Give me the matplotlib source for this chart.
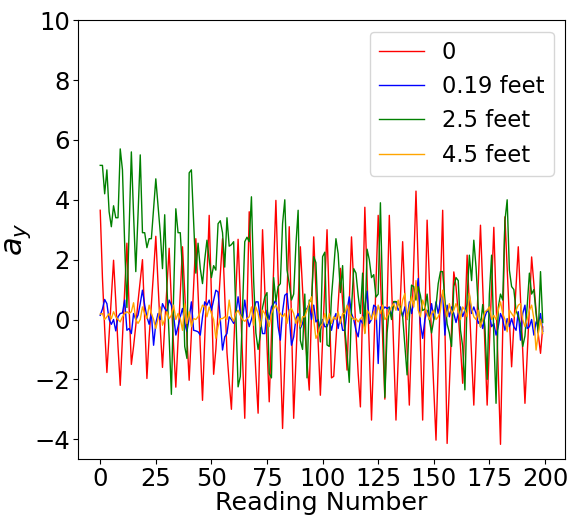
import matplotlib
matplotlib.use("Agg")
import matplotlib.pyplot as plt
import numpy as np

# acceleration readings (y axis) at each sensor height
ay_0 = [
    3.65, 1.4, -0.3, -1.77, -0.5, 0.8, 1.98, 0.6, -0.9, -2.2,
    -0.6, 1.0, 2.55, 0.4, -1.5, -0.9, -0.2, 0.6, 1.3, 2.0,
    0.0, -1.97, -0.6, 0.5, 1.6, 2.78, 1.2, -0.3, -1.6, -0.2,
    1.1, 2.38, 0.6, -0.9, -2.26, -0.7, 0.9, 2.43, 0.9, -0.6,
    -2.03, -0.5, 1.1, 2.7, 0.9, -0.9, -2.7, -0.6, 1.4, 3.48,
    0.8, -1.83, -1.0, 0.3, 1.5, 2.7, 0.8, -1.1, -2.1, -3.0,
    -1.0, 0.9, 2.68, 0.7, -1.3, -3.3, 0.1, 3.6, 1.5, -0.3,
    -1.8, -3.13, 0.0, 3.0, 1.0, -0.9, -2.75, -0.5, 1.7, 3.98,
    1.4, -1.1, -3.64, -1.4, 0.8, 3.1, 0.0, -3.3, -1.4, 0.5,
    2.43, 1.0, -0.3, -1.4, -2.36, 0.2, 2.76, 1.0, -0.8, -2.53,
    -0.7, 1.1, 3.0, 0.5, -1.95, -1.9, -0.7, 0.5, 1.71, 0.6,
    -0.5, -1.69, 0.5, 2.76, 1.2, -0.4, -1.8, -2.92, 0.4, 3.75,
    1.4, -1.0, -3.36, -1.1, 1.2, 3.48, 1.4, -0.6, -2.66, 0.4,
    3.48, 1.2, -1.1, -3.36, -1.3, 0.7, 2.6, 0.8, -1.0, -2.86,
    -0.5, 1.9, 4.29, 1.7, -0.8, -3.36, 0.0, 3.32, 1.4, -0.6,
    -2.3, -4.03, -1.5, 1.1, 3.65, -0.2, -4.14, -2.2, -0.3, 1.59,
    1.1, 0.2, -0.9, -2.13, 0.0, 2.15, 0.5, -1.2, -2.86, -0.8,
    1.2, 3.15, 1.1, -0.9, -2.86, -0.9, 1.1, 3.08, 0.7, -1.7,
    -4.17, -0.4, 3.43, 1.7, 0.0, -1.58, -0.2, 1.1, 2.43, 0.7,
    -1.0, -2.8, -1.2, 0.4, 2.09, 1.2, 0.3, -0.5, -1.13, -0.25,
]

ay_019 = [
    0.14, 0.35, 0.67, 0.53, 0.0, -0.16, 0.0, -0.38, 0.09, 0.2,
    0.22, 0.65, -0.36, -0.3, -0.47, 0.2, 0.0, 0.14, 0.53, 0.98,
    0.48, 0.09, -0.16, 0.2, -0.86, -0.13, 0.2, 0.0, 0.53, 0.37,
    0.26, 0.65, 0.48, 0.14, -0.52, -0.24, 0.09, 0.37, -0.13, -0.4,
    0.05, 0.59, -0.36, -0.38, -0.41, -0.52, 0.09, 0.59, 0.48, 0.65,
    0.31, 0.65, 0.98, 0.92, 0.0, -1.02, -0.58, -0.47, 0.09, 0.0,
    -0.13, 0.2, 0.76, 0.2, 0.0, 0.65, 0.09, -0.24, 0.0, 0.31,
    0.59, 0.59, 0.0, -0.47, -0.47, 0.31, 0.0, 0.42, 0.53, 0.65,
    -0.24, -0.69, 0.26, 0.81, 0.87, 0.09, -0.86, -0.58, 0.03, 0.2,
    -0.3, -0.13, 0.31, 0.37, 0.53, 0.0, 0.48, -0.08, 0.0, -0.36,
    0.0, -0.24, -0.24, 0.0, -0.36, 0.0, 0.2, -0.3, 0.09, -0.36,
    -0.36, 0.31, 0.76, 0.2, 0.0, -0.36, -0.58, 0.0, -0.13, 0.42,
    0.95, -0.13, 0.0, 0.48, 0.42, -1.47, 0.42, 0.31, 0.42, 0.37,
    0.42, 0.09, 0.59, 0.59, 0.31, 0.42, 0.09, 0.42, 0.0, 0.59,
    0.2, 0.59, 0.76, 1.37, -0.13, -0.63, 0.0, 0.31, 0.0, 0.53,
    0.0, 0.59, 0.2, 0.65, 0.87, -0.52, 0.48, 0.09, 0.42, 0.2,
    -0.1, 0.2, 0.42, 0.1, 0.31, 0.48, 0.81, 0.2, 0.42, 0.2,
    -0.13, 0.0, -0.3, 0.09, 0.31, 0.2, -0.24, -0.13, -0.52, -0.24,
    0.2, 0.0, -0.36, 0.03, -0.24, 0.03, -0.24, -0.36, 0.26, -0.69,
    0.2, 0.48, -0.3, -0.24, 0.0, -0.52, -0.08, -0.19, 0.2, -0.4,
]

ay_25 = [
    5.15, 5.15, 4.2, 5.0, 3.6, 3.1, 3.8, 3.4, 3.4, 5.7,
    5.0, 2.5, 0.4, 3.0, 5.6, 3.5, 1.6, 3.5, 5.5, 2.9,
    2.9, 2.4, 2.7, 2.7, 3.7, 4.7, 3.8, 2.9, 1.7, 3.5,
    1.1, -0.6, -2.5, 0.8, 3.7, 2.9, 2.9, 1.65, -0.9, -1.3,
    4.9, 5.0, 3.3, 1.55, 2.55, 1.7, 1.2, 2.0, 2.65, 2.0,
    1.4, 1.8, 1.65, 3.2, 3.3, 2.9, 1.75, 3.4, 2.45, 2.5,
    2.6, 0.2, -2.25, -1.9, 0.4, 2.6, 2.75, 2.6, 4.1, 1.3,
    -0.45, -1.0, -0.5, 0.4, 0.75, 0.9, -1.8, -1.95, 1.4, 0.6,
    1.1, 1.2, 3.2, 4.0, 1.65, 1.2, 0.65, 0.85, 2.5, 3.65,
    -0.7, -1.0, 0.85, -1.95, 0.65, 0.6, 2.1, 1.9, 0.0, -0.75,
    2.1, 2.25, -0.85, -0.9, 0.75, 1.7, 2.7, 2.2, 0.9, 1.8,
    -0.3, -1.15, -2.1, 0.4, 1.7, 1.55, 0.8, 0.2, 1.55, -0.45,
    2.35, 2.0, 1.4, 1.5, 0.75, 0.85, 3.9, 0.6, -2.6, -0.45,
    0.4, 0.0, 0.6, 0.6, 0.55, 0.4, 0.1, -0.9, -1.85, 0.0,
    1.15, 1.1, 0.65, 1.1, 0.8, 0.3, 0.35, 0.85, 0.0, -0.45,
    0.0, 0.45, 1.2, 1.6, 1.6, 0.65, -0.15, -0.45, -0.9, 1.1,
    1.4, 1.3, -0.35, -0.9, -2.35, 0.75, 2.15, 1.3, 2.65, 1.75,
    0.4, -0.25, 0.5, -0.25, -2.0, 0.85, 2.15, -0.55, -2.8, 0.4,
    0.85, 0.65, 3.3, 4.0, 1.65, 1.1, 1.0, 0.3, 0.1, -0.15,
    -0.9, -0.55, 0.45, 1.55, 0.85, 1.0, 0.2, -0.45, 1.6, -0.1,
]

ay_45 = [
    0.18, 0.2, 0.0, 0.09, 0.2, 0.03, 0.26, 0.09, 0.0, -0.08,
    0.09, 0.2, 0.26, 0.2, 0.26, 0.56, 0.0, -0.13, 0.0, 0.42,
    0.2, 0.03, 0.48, 0.2, 0.0, -0.3, 0.03, 0.42, -0.19, 0.0,
    0.26, 0.03, 0.14, 0.48, 0.0, 0.2, 0.03, -0.36, 0.53, -0.13,
    0.26, -0.24, 0.03, 0.0, 0.09, 0.26, 0.48, 0.42, 0.09, 0.42,
    0.2, 0.0, -0.63, -0.24, 0.03, 0.03, 0.09, 0.0, 0.65, 0.09,
    -0.06, 0.2, 0.31, 0.14, 0.0, -0.06, 0.03, 0.09, 0.42, -0.19,
    0.42, 0.2, -0.24, 0.31, 0.2, 0.0, -0.24, 0.2, 0.37, 0.48,
    0.31, 0.2, 0.09, 0.2, -0.13, 0.31, 0.37, 0.2, -0.13, 0.09,
    -0.24, 0.09, 0.09, 0.31, 0.53, 0.76, 0.0, -0.63, -0.47, -0.24,
    -0.13, 0.2, -0.13, 0.2, -0.13, 0.09, 0.0, 0.26, -0.13, 0.2,
    0.2, 0.48, 0.2, 0.09, 0.0, 0.03, -0.08, 0.03, 0.09, -0.47,
    0.31, 0.2, 0.0, 0.26, 0.0, 0.48, 0.2, 0.48, 0.0, 0.09,
    0.26, 0.42, 0.53, 0.31, 0.65, 0.2, 0.65, 0.87, 0.0, 0.42,
    0.76, 0.42, 1.3, 0.31, 0.09, 0.65, 0.42, 0.2, 0.0, 0.2,
    0.31, 0.0, 0.09, 0.31, 0.98, 0.42, 0.09, 0.53, 0.2, 0.31,
    0.53, 0.31, 0.0, 0.42, 0.31, 0.09, 0.87, 0.37, 0.09, 0.0,
    0.31, -0.24, 0.0, 0.26, 0.31, 0.42, 0.0, 0.14, 0.0, 0.31,
    0.59, 0.2, 0.0, -0.41, 0.31, 0.2, 0.09, 0.31, 0.48, 0.53,
    0.0, -0.24, 0.0, 0.31, 0.48, 0.03, -1.02, -0.47, 0.0, -0.47,
]

series_labels = ["0", "0.19 feet", "2.5 feet", "4.5 feet"]
series_colors = ["red", "blue", "green", "orange"]

fig, ax = plt.subplots(figsize=(5.7, 5.18), dpi=100)
fig.subplots_adjust(left=0.137, right=0.991, top=0.961, bottom=0.1145)

readings = np.arange(len(ay_0))
for values, label, color in zip([ay_0, ay_019, ay_25, ay_45], series_labels, series_colors):
    ax.plot(readings, values, color=color, linewidth=1.0, label=label)

ax.set_ylim(-4.65, 10)
ax.set_xticks([0, 25, 50, 75, 100, 125, 150, 175, 200])
ax.tick_params(labelsize=17.5, pad=2.5)
ax.set_xlabel("Reading Number", fontsize=18.3, labelpad=0)
ax.set_ylabel("$a_y$", fontsize=22, labelpad=1)
ax.legend(loc="upper right", fontsize=16.3)

fig.savefig("out.png", dpi=100)
